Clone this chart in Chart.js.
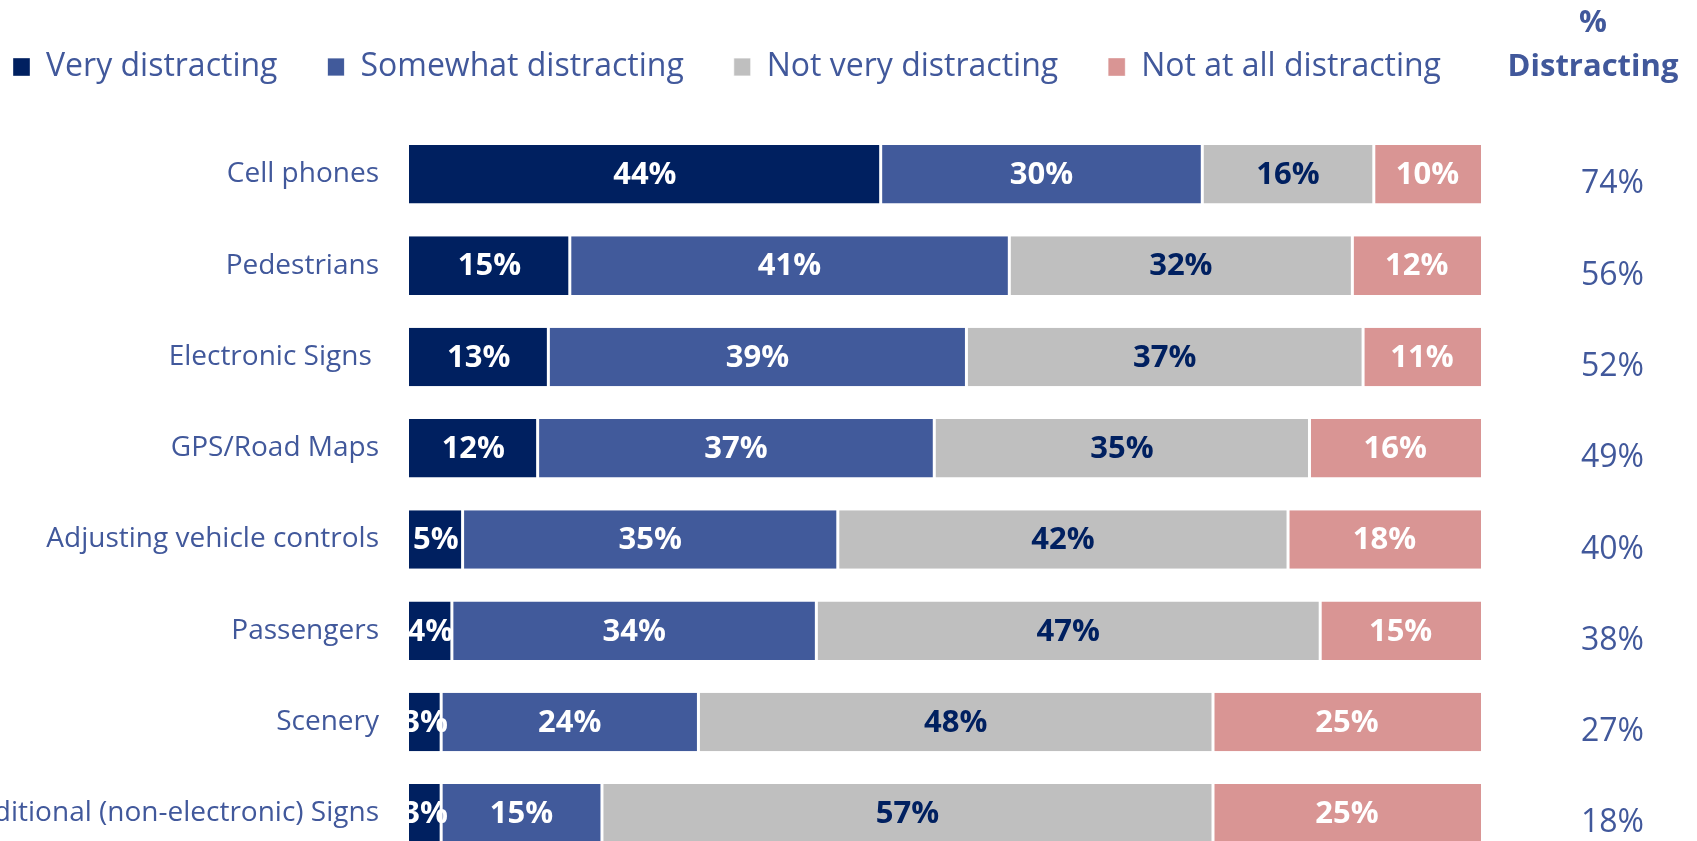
<!DOCTYPE html>
<html>
<head>
<meta charset="utf-8">
<script src="https://cdn.jsdelivr.net/npm/chart.js@4.4.0/dist/chart.umd.min.js"></script>
<style>
  html, body { margin: 0; padding: 0; overflow: hidden; background: #fff; }
  canvas { display: block; }
</style>
</head>
<body>
<canvas id="chart" width="1697" height="880"></canvas>
<script>
var categories = ["Cell phones", "Pedestrians", "Electronic Signs ", "GPS/Road Maps",
  "Adjusting vehicle controls", "Passengers", "Scenery", "Traditional (non-electronic) Signs"];
var veryDistracting = [44, 15, 13, 12, 5, 4, 3, 3];
var somewhatDistracting = [30, 41, 39, 37, 35, 34, 24, 15];
var notVeryDistracting = [16, 32, 37, 35, 42, 47, 48, 57];
var notAtAllDistracting = [10, 12, 11, 16, 18, 15, 25, 25];
var pctDistracting = ["74%", "56%", "52%", "49%", "40%", "38%", "27%", "18%"];

var textBlue = "#41589b";
var fontName = "'Open Sans', sans-serif";

// draws the % value inside every segment
var segmentLabels = {
  id: "segmentLabels",
  afterDatasetsDraw: function (chart) {
    var ctx = chart.ctx;
    var area = chart.chartArea;
    ctx.save();
    ctx.beginPath();
    ctx.rect(area.left, 0, chart.width - area.left, chart.height);
    ctx.clip();
    ctx.font = "bold 31px " + fontName;
    ctx.textAlign = "center";
    ctx.textBaseline = "middle";
    chart.data.datasets.forEach(function (ds, i) {
      var meta = chart.getDatasetMeta(i);
      meta.data.forEach(function (bar, j) {
        var p = bar.getProps(["x", "y", "base"], true);
        ctx.fillStyle = ds.labelColor;
        ctx.fillText(ds.data[j] + "%", (p.x + p.base) / 2, p.y + 1);
      });
    });
    ctx.restore();
  },
  afterDraw: function (chart) {
    // header over the right column
    var ctx = chart.ctx;
    var s = chart.scales.y2;
    ctx.save();
    ctx.font = "bold 31px " + fontName;
    ctx.fillStyle = textBlue;
    ctx.textAlign = "center";
    ctx.textBaseline = "middle";
    ctx.fillText("%", s.left + 112, 23);
    ctx.fillText("Distracting", s.left + 112, 67);
    ctx.restore();
  }
};

var ctx = document.getElementById("chart").getContext("2d");
var chart = new Chart(ctx, {
  type: "bar",
  data: {
    labels: categories,
    datasets: [
      {
        label: "Very distracting",
        data: veryDistracting,
        backgroundColor: "#002060",
        borderColor: "#ffffff",
        borderWidth: { left: 0, right: 1.5, top: 0, bottom: 0 },
        labelColor: "#ffffff"
      },
      {
        label: "Somewhat distracting",
        data: somewhatDistracting,
        backgroundColor: "#415a9b",
        borderColor: "#ffffff",
        borderWidth: { left: 1.5, right: 1.5, top: 0, bottom: 0 },
        labelColor: "#ffffff"
      },
      {
        label: "Not very distracting",
        data: notVeryDistracting,
        backgroundColor: "#bfbfbf",
        borderColor: "#ffffff",
        borderWidth: { left: 1.5, right: 1.5, top: 0, bottom: 0 },
        labelColor: "#002060"
      },
      {
        label: "Not at all distracting",
        data: notAtAllDistracting,
        backgroundColor: "#d99594",
        borderColor: "#ffffff",
        borderWidth: { left: 1.5, right: 0, top: 0, bottom: 0 },
        labelColor: "#ffffff"
      }
    ]
  },
  options: {
    indexAxis: "y",
    responsive: false,
    animation: false,
    datasets: {
      bar: { barPercentage: 0.641, categoryPercentage: 1, borderSkipped: false }
    },
    layout: { padding: { left: -37, top: 1, right: 0, bottom: 21 } },
    plugins: {
      tooltip: { enabled: false },
      legend: {
        position: "top",
        align: "start",
        labels: {
          boxWidth: 17,
          boxHeight: 18,
          padding: 50,
          color: textBlue,
          font: { family: fontName, size: 32 }
        }
      }
    },
    scales: {
      x: {
        position: "top",
        stacked: true,
        min: 0,
        max: 100,
        grid: { display: false },
        border: { display: false },
        ticks: { display: false },
        afterFit: function (s) { s.height = 35.7; }
      },
      y: {
        stacked: true,
        grid: { display: false },
        border: { display: false },
        ticks: {
          color: textBlue,
          padding: 22,
          font: { family: fontName, size: 28 }
        },
        afterFit: function (s) {
          s.width = 446;
          s.paddingTop = 0;
          s.paddingBottom = 0;
        }
      },
      y2: {
        type: "category",
        labels: pctDistracting,
        position: "right",
        offset: true,
        grid: { display: false },
        border: { display: false },
        ticks: {
          color: textBlue,
          padding: 92,
          labelOffset: 10,
          font: { family: fontName, size: 32 }
        },
        afterFit: function (s) {
          s.width = 216;
          s.paddingTop = 0;
          s.paddingBottom = 0;
        }
      }
    }
  },
  plugins: [segmentLabels]
});
</script>
</body>
</html>
